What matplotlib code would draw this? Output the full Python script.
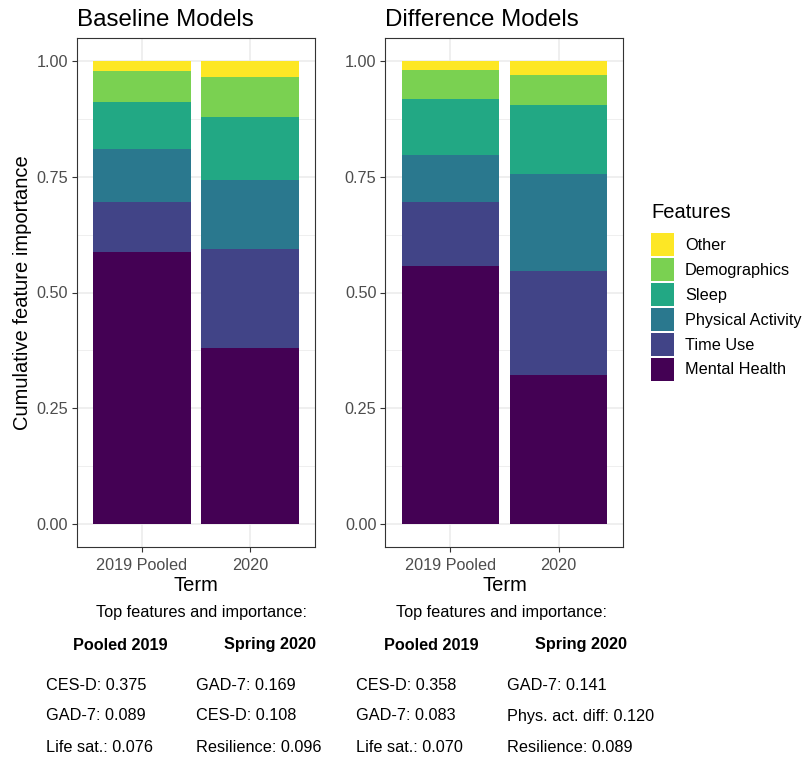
import numpy as np
import matplotlib
matplotlib.use("Agg")
import matplotlib.pyplot as plt
from matplotlib.patches import Patch

plt.rcParams['font.family'] = ['Liberation Sans', 'DejaVu Sans']

# data
terms = ['2019 Pooled', '2020']
features = ['Mental Health', 'Time Use', 'Physical Activity', 'Sleep', 'Demographics', 'Other']
colors = ['#440154', '#414487', '#2A788E', '#22A884', '#7AD151', '#FDE725']

baseline = {
    'Mental Health': [0.587, 0.379],
    'Time Use': [0.108, 0.215],
    'Physical Activity': [0.116, 0.150],
    'Sleep': [0.100, 0.135],
    'Demographics': [0.068, 0.087],
    'Other': [0.021, 0.034],
}
difference = {
    'Mental Health': [0.558, 0.321],
    'Time Use': [0.137, 0.226],
    'Physical Activity': [0.102, 0.209],
    'Sleep': [0.121, 0.150],
    'Demographics': [0.063, 0.065],
    'Other': [0.019, 0.029],
}

top_baseline_2019 = ['CES-D: 0.375', 'GAD-7: 0.089', 'Life sat.: 0.076']
top_baseline_2020 = ['GAD-7: 0.169', 'CES-D: 0.108', 'Resilience: 0.096']
top_diff_2019 = ['CES-D: 0.358', 'GAD-7: 0.083', 'Life sat.: 0.070']
top_diff_2020 = ['GAD-7: 0.141', 'Phys. act. diff: 0.120', 'Resilience: 0.089']

W, H = 804, 761
fig = plt.figure(figsize=(W / 100, H / 100), dpi=100)

def px(x, y):
    return x / W, 1 - y / H

panel_left = [77, 385.5]
panel_w = 238
panel_top, panel_bot = 38, 547
axes = []
for lft in panel_left:
    ax = fig.add_axes([lft / W, (H - panel_bot) / H, panel_w / W, (panel_bot - panel_top) / H])
    axes.append(ax)

def draw(ax, data, title):
    x = np.arange(1, len(terms) + 1)
    bottom = np.zeros(len(terms))
    for f, c in zip(features, colors):
        vals = np.array(data[f])
        ax.bar(x, vals, width=0.9, bottom=bottom, color=c, linewidth=0, zorder=3)
        bottom += vals
    ax.set_xlim(0.4, 2.6)
    ax.set_ylim(-0.05, 1.05)
    ax.set_xticks(x)
    ax.set_xticklabels(terms)
    ax.set_yticks([0, 0.25, 0.5, 0.75, 1.0])
    ax.set_yticklabels(['0.00', '0.25', '0.50', '0.75', '1.00'])
    ax.set_yticks([0.125, 0.375, 0.625, 0.875], minor=True)
    ax.grid(True, which='major', color='#EBEBEB', linewidth=1.1, zorder=0)
    ax.grid(True, which='minor', axis='y', color='#EBEBEB', linewidth=0.55, zorder=0)
    ax.tick_params(which='major', length=3.5, width=0.8, color='#333333',
                   labelsize=11.7, labelcolor='#4D4D4D', pad=3)
    ax.tick_params(axis='x', which='major', pad=4.5)
    ax.tick_params(which='minor', length=0)
    for s in ax.spines.values():
        s.set_color('#333333')
        s.set_linewidth(0.8)
    ax.set_axisbelow(True)
    ax.set_xlabel('Term', fontsize=14.5, labelpad=2)
    ax.set_title(title, fontsize=17.4, loc='left', pad=9)

draw(axes[0], baseline, 'Baseline Models')
draw(axes[1], difference, 'Difference Models')
axes[0].set_ylabel('Cumulative feature importance', fontsize=14.5, labelpad=3)

# legend (title drawn separately to get the ggplot gap)
fig.text(*px(651, 213), 'Features', ha='left', va='center', fontsize=14.5)
handles = [Patch(facecolor=c, edgecolor='none') for c in colors][::-1]
leg = fig.legend(handles, features[::-1], loc='upper left', bbox_to_anchor=px(651, 233),
                 frameon=False, fontsize=11.7, borderpad=0, borderaxespad=0,
                 handlelength=1.42, handleheight=1.8, labelspacing=0.12, handletextpad=0.68)

# bottom tables
def table(cx_title, cx_h1, cx_h2, x1, x2, col1, col2):
    fig.text(*px(cx_title, 612), 'Top features and importance:', ha='center', va='center', fontsize=11.7)
    fig.text(*px(cx_h1, 645), 'Pooled 2019', ha='center', va='center', fontsize=11.7, fontweight='bold')
    fig.text(*px(cx_h2, 645), 'Spring 2020', ha='center', va='center', fontsize=11.7, fontweight='bold')
    for i, (a, b) in enumerate(zip(col1, col2)):
        y = 685 + 31 * i
        fig.text(*px(x1, y), a, ha='left', va='center', fontsize=11.7)
        fig.text(*px(x2, y), b, ha='left', va='center', fontsize=11.7)

table(201.6, 120, 270, 46, 196, top_baseline_2019, top_baseline_2020)
table(502, 431, 581, 356.5, 507, top_diff_2019, top_diff_2020)

fig.savefig('out.png', dpi=100, facecolor='white')
